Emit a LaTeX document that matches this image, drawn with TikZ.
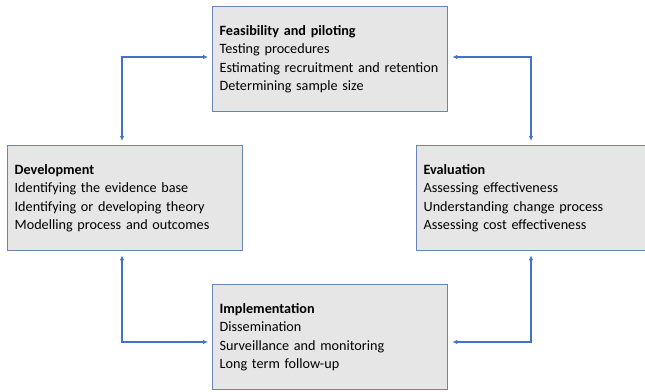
\documentclass[tikz,border=0pt]{standalone}
\usepackage{fontspec}
\setmainfont{Carlito}
\usetikzlibrary{arrows.meta}

\definecolor{boxfill}{HTML}{E6E6E6}
\definecolor{boxline}{HTML}{6A85B5}
\definecolor{linkblue}{HTML}{4472C4}

\begin{document}
\begin{tikzpicture}[x=1pt,y=-1pt]

\tikzset{phase/.style = {draw=boxline, line width=1.3pt, fill=boxfill, anchor=north west,
    minimum height=105pt, text width=221pt, inner xsep=7pt, align=left,
    font=\fontsize{14.2}{18.3}\selectfont}}
\tikzset{link/.style = {{Latex[length=5pt,width=4.5pt]}-{Latex[length=5pt,width=4.5pt]},
    draw=linkblue, line width=1.6pt, shorten <=4pt, shorten >=4pt}}

\useasboundingbox (0,0) rectangle (645,391);
\clip (0,0) rectangle (645,391);

\node[phase] (feas) at (212,6) {\textbf{Feasibility and piloting}\\Testing procedures\\Estimating recruitment and retention\\Determining sample size};
\node[phase] (dev) at (7,145) {\textbf{Development}\\Identifying the evidence base\\Identifying or developing theory\\Modelling process and outcomes};
\node[phase] (eval) at (416,145) {\textbf{Evaluation}\\Assessing effectiveness\\Understanding change process\\Assessing cost effectiveness};
\node[phase] (impl) at (212,284) {\textbf{Implementation}\\Dissemination\\Surveillance and monitoring\\Long term follow-up};

\coordinate (tl) at (122,57);
\coordinate (tr) at (531,57);
\coordinate (bl) at (122,342);
\coordinate (br) at (531,342);

\draw[link] (dev.north -| tl) -- (tl) -- (tl -| feas.west);
\draw[link] (feas.east |- tr) -- (tr) -- (tr |- eval.north);
\draw[link] (dev.south -| bl) -- (bl) -- (bl -| impl.west);
\draw[link] (eval.south -| br) -- (br) -- (br -| impl.east);

\end{tikzpicture}
\end{document}
